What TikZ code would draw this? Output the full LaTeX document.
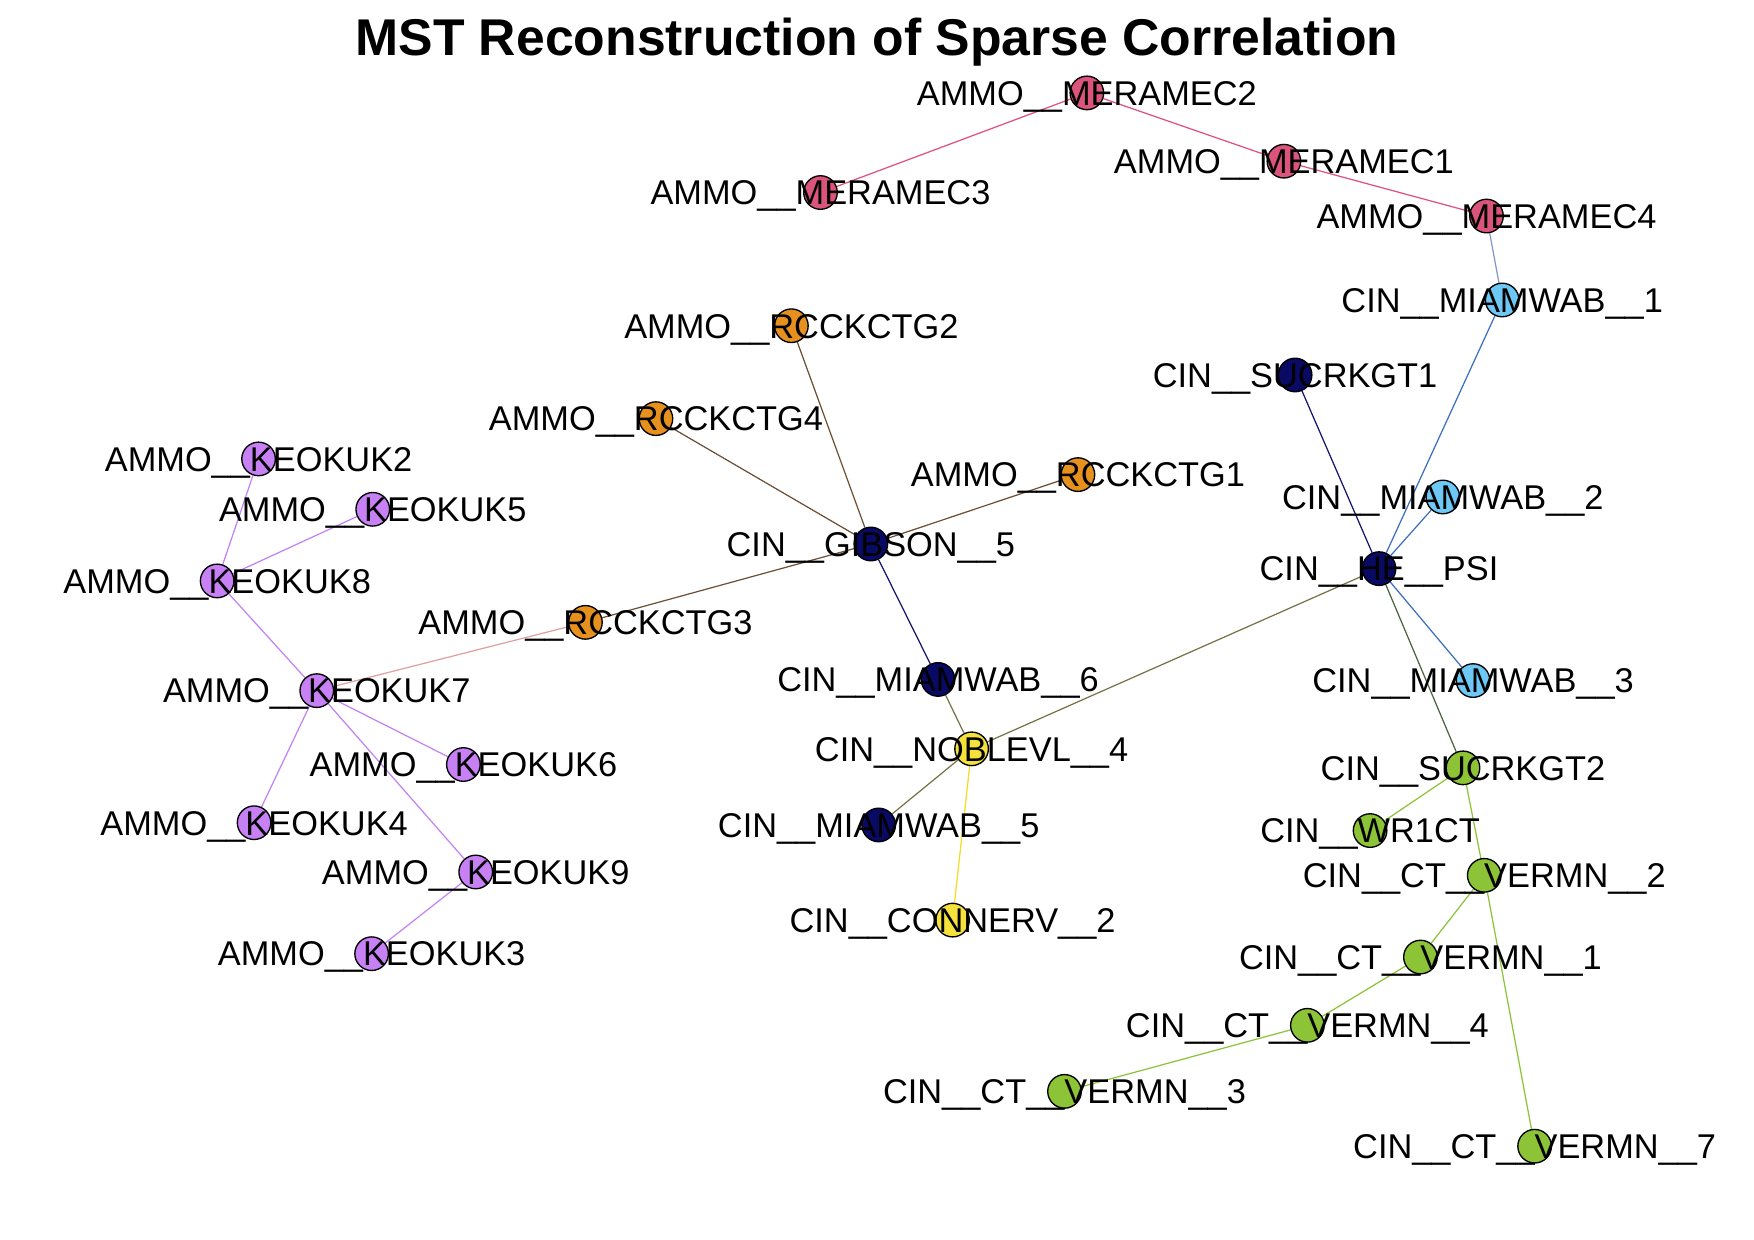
\documentclass[tikz,border=0pt]{standalone}
\usepackage{fontspec}
\setmainfont{Liberation Sans}
\usetikzlibrary{backgrounds}
\definecolor{cpink}{RGB}{219,84,124}
\definecolor{epink}{RGB}{224,80,126}
\definecolor{clblue}{RGB}{110,200,245}
\definecolor{cnavy}{RGB}{8,10,100}
\definecolor{corange}{RGB}{230,145,30}
\definecolor{cpurple}{RGB}{200,128,245}
\definecolor{cyellow}{RGB}{245,225,60}
\definecolor{cgreen}{RGB}{140,195,55}
\definecolor{eslate}{RGB}{130,150,200}
\definecolor{eblue}{RGB}{60,110,190}
\definecolor{enavy}{RGB}{20,20,110}
\definecolor{edkgreen}{RGB}{75,100,60}
\definecolor{eolive}{RGB}{120,115,70}
\definecolor{eyellow}{RGB}{245,220,40}
\definecolor{ebrown}{RGB}{110,80,55}
\definecolor{erose}{RGB}{225,160,160}
\definecolor{epurple}{RGB}{195,130,245}
\definecolor{egreen}{RGB}{140,195,55}
\tikzset{
  nd/.style={circle, draw=black, line width=0.6pt, minimum size=15pt, inner sep=0pt},
  every label/.style={font=\fontsize{15.35}{17}\selectfont, text=black, inner sep=0pt, text height=11pt, text depth=0pt},
  ed/.style={line width=0.55pt},
  titlestyle/.style={font=\fontsize{23.1}{26}\selectfont\bfseries, inner sep=0pt, text height=16.5pt, text depth=0pt}
}
\begin{document}
\begin{tikzpicture}[x=0.5pt,y=-0.5pt]
\useasboundingbox (0,0) rectangle (1567,1107);
\node[titlestyle] (title) at (783.5,33.5) {MST Reconstruction of Sparse Correlation};
% nodes
\node[nd, fill=cpink, label={center:AMMO\_\_MERAMEC2}] (m2) at (971,83) {};
\node[nd, fill=cpink, label={center:AMMO\_\_MERAMEC3}] (m3) at (733,172) {};
\node[nd, fill=cpink, label={center:AMMO\_\_MERAMEC1}] (m1) at (1147,144) {};
\node[nd, fill=cpink, label={center:AMMO\_\_MERAMEC4}] (m4) at (1328,193) {};
\node[nd, fill=clblue, label={center:CIN\_\_MIAMWAB\_\_1}] (w1) at (1342,268) {};
\node[nd, fill=cnavy, label={center:CIN\_\_SUCRKGT1}] (s1) at (1157,335) {};
\node[nd, fill=clblue, label={center:CIN\_\_MIAMWAB\_\_2}] (w2) at (1289,444) {};
\node[nd, fill=cnavy, label={center:CIN\_\_HE\_\_PSI}] (he) at (1232,508) {};
\node[nd, fill=clblue, label={center:CIN\_\_MIAMWAB\_\_3}] (w3) at (1316,608) {};
\node[nd, fill=cgreen, label={center:CIN\_\_SUCRKGT2}] (s2) at (1307,686) {};
\node[nd, fill=cgreen, label={center:CIN\_\_WR1CT}] (wr) at (1224,742) {};
\node[nd, fill=cgreen, label={center:CIN\_\_CT\_\_VERMN\_\_2}] (v2) at (1326,782) {};
\node[nd, fill=cgreen, label={center:CIN\_\_CT\_\_VERMN\_\_1}] (v1) at (1269,855) {};
\node[nd, fill=cgreen, label={center:CIN\_\_CT\_\_VERMN\_\_4}] (v4) at (1168,916) {};
\node[nd, fill=cgreen, label={center:CIN\_\_CT\_\_VERMN\_\_3}] (v3) at (951,975) {};
\node[nd, fill=cgreen, label={center:CIN\_\_CT\_\_VERMN\_\_7}] (v7) at (1371,1024) {};
\node[nd, fill=corange, label={center:AMMO\_\_RCCKCTG2}] (r2) at (707,291) {};
\node[nd, fill=corange, label={center:AMMO\_\_RCCKCTG4}] (r4) at (586,374) {};
\node[nd, fill=corange, label={center:AMMO\_\_RCCKCTG1}] (r1) at (963,424) {};
\node[nd, fill=cnavy, label={center:CIN\_\_GIBSON\_\_5}] (gi) at (778,486) {};
\node[nd, fill=corange, label={center:AMMO\_\_RCCKCTG3}] (r3) at (523,556) {};
\node[nd, fill=cnavy, label={center:CIN\_\_MIAMWAB\_\_6}] (w6) at (838,607) {};
\node[nd, fill=cyellow, label={center:CIN\_\_NOBLEVL\_\_4}] (nb) at (868,669) {};
\node[nd, fill=cnavy, label={center:CIN\_\_MIAMWAB\_\_5}] (w5) at (785,737) {};
\node[nd, fill=cyellow, label={center:CIN\_\_CONNERV\_\_2}] (cn) at (851,822) {};
\node[nd, fill=cpurple, label={center:AMMO\_\_KEOKUK2}] (k2) at (231,410) {};
\node[nd, fill=cpurple, label={center:AMMO\_\_KEOKUK5}] (k5) at (333,455) {};
\node[nd, fill=cpurple, label={center:AMMO\_\_KEOKUK8}] (k8) at (194,519) {};
\node[nd, fill=cpurple, label={center:AMMO\_\_KEOKUK7}] (k7) at (283,617) {};
\node[nd, fill=cpurple, label={center:AMMO\_\_KEOKUK6}] (k6) at (414,683) {};
\node[nd, fill=cpurple, label={center:AMMO\_\_KEOKUK4}] (k4) at (227,735) {};
\node[nd, fill=cpurple, label={center:AMMO\_\_KEOKUK9}] (k9) at (425,779) {};
\node[nd, fill=cpurple, label={center:AMMO\_\_KEOKUK3}] (k3) at (332,852) {};
% edges
\begin{scope}[on background layer]
\draw[ed, epink] (m2) -- (m3);
\draw[ed, epink] (m2) -- (m1);
\draw[ed, epink] (m1) -- (m4);
\draw[ed, eslate] (m4) -- (w1);
\draw[ed, eblue] (w1) -- (he);
\draw[ed, enavy] (s1) -- (he);
\draw[ed, eblue] (w2) -- (he);
\draw[ed, eblue] (he) -- (w3);
\draw[ed, edkgreen] (he) -- (s2);
\draw[ed, eolive] (he) -- (nb);
\draw[ed, egreen] (s2) -- (wr);
\draw[ed, egreen] (s2) -- (v2);
\draw[ed, egreen] (v2) -- (v1);
\draw[ed, egreen] (v2) -- (v7);
\draw[ed, egreen] (v1) -- (v4);
\draw[ed, egreen] (v4) -- (v3);
\draw[ed, ebrown] (gi) -- (r2);
\draw[ed, ebrown] (gi) -- (r4);
\draw[ed, ebrown] (gi) -- (r1);
\draw[ed, ebrown] (gi) -- (r3);
\draw[ed, enavy] (gi) -- (w6);
\draw[ed, eolive] (w6) -- (nb);
\draw[ed, eolive] (nb) -- (w5);
\draw[ed, eyellow] (nb) -- (cn);
\draw[ed, erose] (r3) -- (k7);
\draw[ed, epurple] (k7) -- (k8);
\draw[ed, epurple] (k8) -- (k2);
\draw[ed, epurple] (k8) -- (k5);
\draw[ed, epurple] (k7) -- (k6);
\draw[ed, epurple] (k7) -- (k4);
\draw[ed, epurple] (k7) -- (k9);
\draw[ed, epurple] (k9) -- (k3);
\end{scope}
\end{tikzpicture}
\end{document}
